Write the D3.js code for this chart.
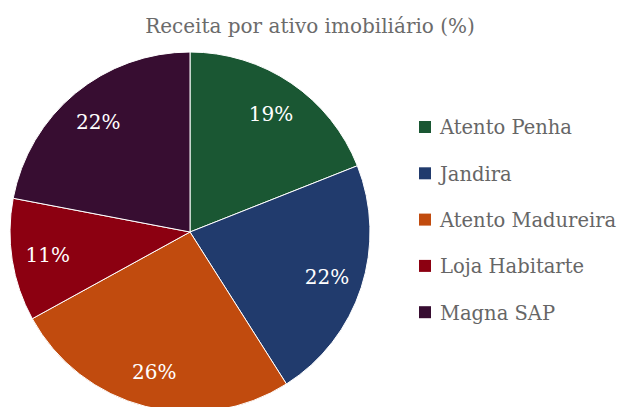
<!DOCTYPE html>
<html><head><meta charset="utf-8">
<script src="https://cdn.jsdelivr.net/npm/d3@7"></script>
<style>body{margin:0;background:#fff}svg{display:block}
svg text{font-family:"DejaVu Serif","Liberation Serif",serif;}</style>
</head><body>
<script>
const categories = ["Atento Penha", "Jandira", "Atento Madureira", "Loja Habitarte", "Magna SAP"];
const values = [19, 22, 26, 11, 22];
const colors = ["#1a5733", "#213b6d", "#c14b0e", "#8c0011", "#370d31"];
const title = "Receita por ativo imobiliário (%)";

const W = 618, H = 407;
const svg = d3.select("body").append("svg").attr("width", W).attr("height", H);

svg.append("text").attr("x", 310).attr("y", 33).attr("text-anchor", "middle")
  .attr("font-size", 20).attr("fill", "#6b6b6b").text(title);

const cx = 190, cy = 232, R = 180;
const data = categories.map((c, i) => ({ c, v: values[i], col: colors[i] }));
const pie = d3.pie().value(d => d.v).sort(null);
const arc = d3.arc().innerRadius(0).outerRadius(R);
const labelArc = d3.arc().innerRadius(R * 0.8).outerRadius(R * 0.8);
const g = svg.append("g").attr("transform", `translate(${cx},${cy})`);
const arcs = pie(data);
g.selectAll("path").data(arcs).join("path")
  .attr("d", arc).attr("fill", d => d.data.col)
  .attr("stroke", "#fff").attr("stroke-width", 1);
g.selectAll("text").data(arcs).join("text")
  .attr("transform", d => `translate(${labelArc.centroid(d)})`)
  .attr("text-anchor", "middle").attr("dy", "0.38em")
  .attr("font-size", 20).attr("fill", "#fff")
  .text(d => d.data.v + "%");

const lg = svg.append("g");
const rows = lg.selectAll("g").data(data).join("g")
  .attr("transform", (d, i) => `translate(419,${127 + i * 46.3})`);
rows.append("rect").attr("x", 0).attr("y", -6).attr("width", 12).attr("height", 12).attr("fill", d => d.col);
rows.append("text").attr("x", 21).attr("y", 0).attr("dy", "0.38em")
  .attr("font-size", 19.5).attr("fill", "#666").text(d => d.c);
</script>
</body></html>
